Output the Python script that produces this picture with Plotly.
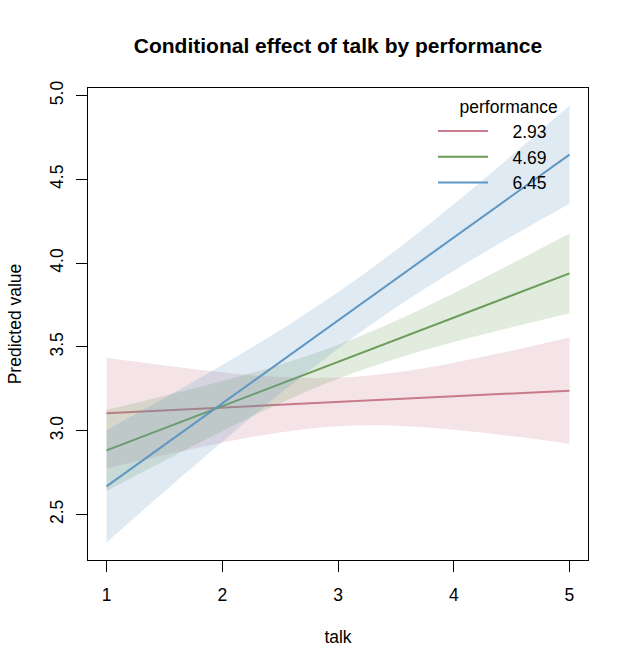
import plotly.graph_objects as go

# values
talk = [1.0, 1.5, 2.0, 2.5, 3.0, 3.5, 4.0, 4.5, 5.0]
levels = ["2.93", "4.69", "6.45"]

fit_293 = [3.105, 3.122, 3.139, 3.155, 3.172, 3.189, 3.206, 3.223, 3.239]
lo_293 = [2.775, 2.855, 2.929, 2.990, 3.027, 3.030, 3.006, 2.968, 2.922]
hi_293 = [3.435, 3.389, 3.349, 3.320, 3.317, 3.348, 3.406, 3.478, 3.556]

fit_469 = [2.883, 3.015, 3.147, 3.279, 3.411, 3.543, 3.675, 3.807, 3.939]
lo_469 = [2.641, 2.821, 2.997, 3.164, 3.311, 3.430, 3.529, 3.617, 3.701]
hi_469 = [3.125, 3.209, 3.297, 3.394, 3.511, 3.656, 3.821, 3.997, 4.177]

fit_645 = [2.668, 2.916, 3.163, 3.411, 3.658, 3.906, 4.153, 4.401, 4.648]
lo_645 = [2.333, 2.637, 2.934, 3.222, 3.490, 3.735, 3.955, 4.160, 4.355]
hi_645 = [3.003, 3.195, 3.392, 3.600, 3.826, 4.077, 4.351, 4.642, 4.941]

x_ticks = [1, 2, 3, 4, 5]
y_ticks = [2.5, 3.0, 3.5, 4.0, 4.5, 5.0]

colors = ["#C87A8A", "#6B9D59", "#5F96C2"]
bands = ["rgba(200,122,138,0.2)", "rgba(107,157,89,0.2)", "rgba(95,150,194,0.2)"]

series = [(fit_293, lo_293, hi_293), (fit_469, lo_469, hi_469), (fit_645, lo_645, hi_645)]

FONT = "Liberation Sans, Arial, sans-serif"
PAD = "\u00a0" * 4
fig = go.Figure()
for (fit, lo, hi), lab, c, b in zip(series, levels, colors, bands):
    fig.add_trace(go.Scatter(x=talk, y=lo, mode="lines", line=dict(width=0, shape="spline"),
                             showlegend=False, hoverinfo="skip"))
    fig.add_trace(go.Scatter(x=talk, y=hi, mode="lines", line=dict(width=0, shape="spline"),
                             fill="tonexty", fillcolor=b, showlegend=False, hoverinfo="skip"))
    fig.add_trace(go.Scatter(x=talk, y=fit, mode="lines", line=dict(color=c, width=2),
                             name=PAD + lab))

axis_common = dict(showline=True, linecolor="black", linewidth=1, mirror=True,
                   ticks="outside", ticklen=11, tickcolor="black", tickwidth=1,
                   showgrid=False, zeroline=False,
                   tickfont=dict(family=FONT, size=17.5, color="black"))

fig.update_layout(
    width=634, height=671,
    margin=dict(l=88, r=46, t=88, b=111),
    paper_bgcolor="white", plot_bgcolor="white",
    title=dict(text="<b>Conditional effect of talk by performance</b>",
               x=0.5, xref="paper", y=1 - 46 / 671, yref="container", yanchor="middle",
               font=dict(family=FONT, size=21, color="black")),
    xaxis=dict(range=[0.84, 5.16], tickvals=x_ticks, ticktext=[str(v) for v in x_ticks],
               title=dict(text="talk", font=dict(family=FONT, size=17.5, color="black"), standoff=26),
               ticklabelstandoff=8, **axis_common),
    yaxis=dict(range=[2.2287, 5.0453], tickvals=y_ticks, ticktext=[f"{v:.1f}" for v in y_ticks],
               tickangle=-90,
               title=dict(text="Predicted value", font=dict(family=FONT, size=17.5, color="black"), standoff=20),
               ticklabelstandoff=6, **axis_common),
    legend=dict(x=0.69, y=0.995, xanchor="left", yanchor="top", bgcolor="rgba(0,0,0,0)",
                traceorder="normal",
                font=dict(family=FONT, size=17.5, color="black"),
                title=dict(text="\u00a0" * 5 + "performance", side="top center",
                           font=dict(family=FONT, size=17.5, color="black")),
                itemwidth=50, tracegroupgap=0),
    showlegend=True,
)

fig.write_html("out.html")
